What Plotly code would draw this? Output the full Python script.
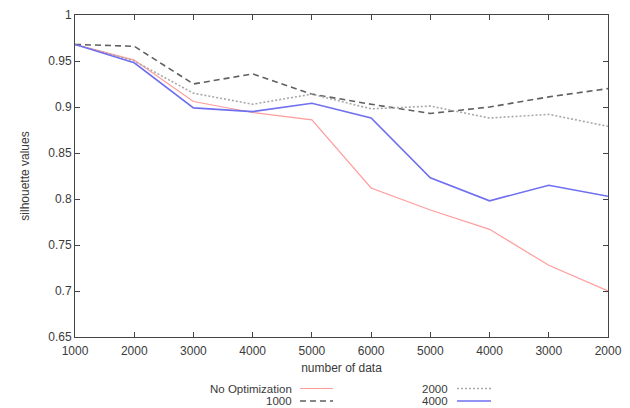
import plotly.graph_objects as go

x_labels = ["1000", "2000", "3000", "4000", "5000", "6000", "5000", "4000", "3000", "2000"]
no_opt = [0.968, 0.951, 0.906, 0.894, 0.886, 0.812, 0.788, 0.767, 0.728, 0.700]
s1000 = [0.968, 0.966, 0.925, 0.936, 0.914, 0.903, 0.893, 0.900, 0.911, 0.920]
s2000 = [0.968, 0.950, 0.915, 0.903, 0.914, 0.898, 0.901, 0.888, 0.892, 0.879]
s4000 = [0.968, 0.948, 0.899, 0.895, 0.904, 0.888, 0.823, 0.798, 0.815, 0.803]
y_ticks = [0.65, 0.7, 0.75, 0.8, 0.85, 0.9, 0.95, 1.0]
y_ticktext = ["0.65", "0.7", "0.75", "0.8", "0.85", "0.9", "0.95", "1"]

xi = list(range(len(x_labels)))

series = [
    ("No Optimization", no_opt, dict(color="#ff9c9c", width=1.2, dash="solid")),
    ("1000", s1000, dict(color="#606060", width=1.6, dash="6px,4px")),
    ("2000", s2000, dict(color="#a8a8a8", width=1.6, dash="2px,2px")),
    ("4000", s4000, dict(color="#6f6ff0", width=1.6, dash="solid")),
]

fig = go.Figure()
for name, ys, ln in series:
    fig.add_trace(go.Scatter(x=xi, y=ys, mode="lines", name=name, line=ln, showlegend=False))

font = dict(family="Liberation Sans, Arial, sans-serif", size=12, color="#3a3a3a")
lfont = dict(family="Liberation Sans, Arial, sans-serif", size=11.5, color="#3a3a3a")

W, H = 630, 408
pl, pr, pt, pb = 75, 608, 15, 337

fig.update_layout(
    width=W, height=H,
    margin=dict(l=pl, r=W - pr, t=pt, b=H - pb, autoexpand=False),
    paper_bgcolor="white", plot_bgcolor="white",
    font=font,
    xaxis=dict(
        range=[0, 9], tickmode="array", tickvals=xi, ticktext=x_labels,
        ticks="inside", ticklen=5, tickcolor="#444", showgrid=False, zeroline=False,
        showline=True, linecolor="#444", linewidth=1, mirror="ticks",
        ticklabelstandoff=3,
        title=dict(text="number of data", font=font, standoff=6),
    ),
    yaxis=dict(
        range=[0.65, 1.0], tickmode="array", tickvals=y_ticks, ticktext=y_ticktext,
        ticks="inside", ticklen=5, tickcolor="#444", showgrid=False, zeroline=False,
        showline=True, linecolor="#444", linewidth=1, mirror="ticks",
        title=dict(text="silhouette values", font=font, standoff=16),
    ),
)

# gnuplot-style legend below the plot: label text right-aligned, sample to the right
def px_to_plot(px, py):
    return (px - pl) / (pr - pl), (pb - py) / (pb - pt)

legend_items = [
    ("No Optimization", series[0][2], 293, 300, 333, 388.5),
    ("1000", series[1][2], 293, 300, 333, 401),
    ("2000", series[2][2], 449, 457, 491, 388.5),
    ("4000", series[3][2], 449, 457, 491, 401),
]
for label, ln, tx, x0, x1, yy in legend_items:
    ax, ay = px_to_plot(tx, yy)
    fig.add_annotation(x=ax, y=ay, xref="paper", yref="paper", text=label,
                       showarrow=False, xanchor="right", yanchor="middle", font=lfont,
                       borderpad=0)
    sx0, sy = px_to_plot(x0, yy)
    sx1, _ = px_to_plot(x1, yy)
    fig.add_shape(type="line", xref="paper", yref="paper", x0=sx0, x1=sx1, y0=sy, y1=sy,
                  line=dict(color=ln["color"], width=ln["width"], dash=ln["dash"]))

fig.write_html("out.html", config={"displayModeBar": False},
               post_script="document.body.style.margin='0';document.body.style.overflow='hidden';")
